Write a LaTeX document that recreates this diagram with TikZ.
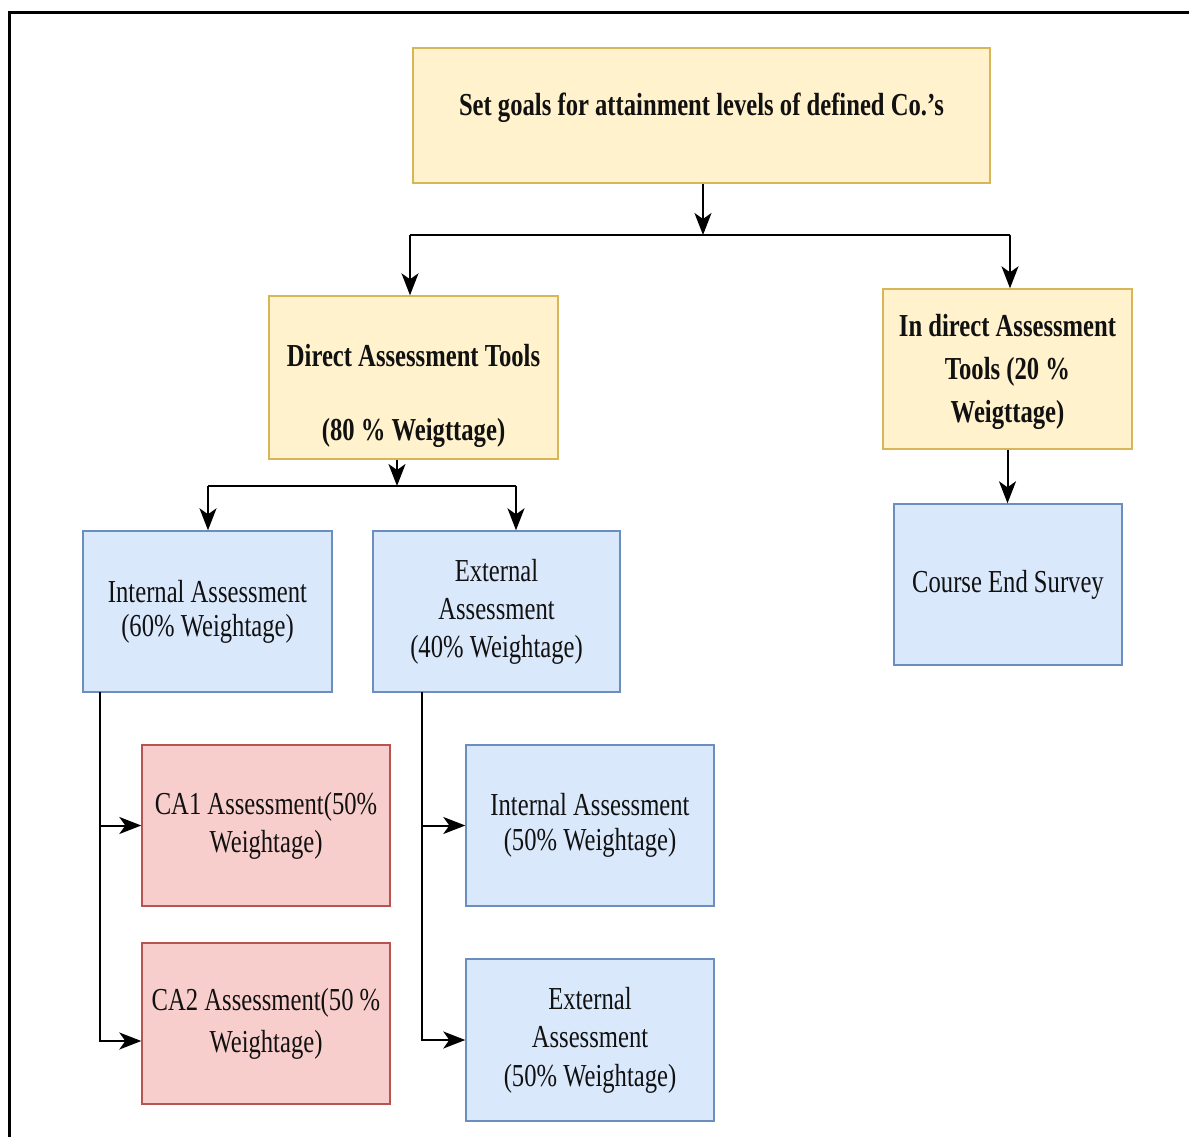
\documentclass[tikz,border=0pt]{standalone}
\usepackage{fontspec}
\setmainfont{Liberation Serif}[FakeStretch=0.77]
\usetikzlibrary{arrows.meta}
\definecolor{yfill}{HTML}{FFF2CC}
\definecolor{yline}{HTML}{D6B656}
\definecolor{bfill}{HTML}{DAE8FC}
\definecolor{bline}{HTML}{6C8EBF}
\definecolor{rfill}{HTML}{F8CECC}
\definecolor{rline}{HTML}{B85450}
\definecolor{txt}{HTML}{111111}
\tikzset{
  box/.style={draw, rectangle, line width=1.4pt, inner sep=0pt, align=center, text=txt,
    font=\fontsize{32}{37}\selectfont},
  ybox/.style={box, fill=yfill, draw=yline},
  bbox/.style={box, fill=bfill, draw=bline},
  rbox/.style={box, fill=rfill, draw=rline},
  btext/.style={align=center, text=txt, inner sep=0pt, font=\fontsize{32}{37}\selectfont\bfseries},
  conn/.style={line width=2pt, draw=black},
  arr/.style={conn, -{Stealth[length=22pt, width=17pt, inset=6pt]}}
}
\begin{document}
\begin{tikzpicture}[x=1pt, y=-1pt]
\useasboundingbox (0,0) rectangle (1189,1137);
\fill[white] (0,0) rectangle (1189,1137);
\draw[line width=3pt] (9.5,1137) -- (9.5,12.5) -- (1189,12.5);

% boxes
\node[ybox, minimum width=577pt, minimum height=135pt] (top) at (701.5,115.5) {};
\node[btext] (topT) at ([yshift=8pt]top.center) {Set goals for attainment levels of defined Co.’s};

\node[ybox, minimum width=289pt, minimum height=163pt] (direct) at (413.5,377.5) {};
\node[btext] (directT) at ([yshift=-18pt]direct.center) {Direct Assessment Tools\\[37pt](80 \% Weigttage)};

\node[ybox, minimum width=249pt, minimum height=160pt] (indirect) at (1007.5,369) {};
\node[btext, font=\fontsize{32}{43}\selectfont\bfseries] (indirectT) at ([yshift=-3pt]indirect.center)
  {In direct Assessment\\Tools (20 \%\\Weigttage)};

\node[bbox, minimum width=249pt, minimum height=161pt, font=\fontsize{32}{34}\selectfont] (int60) at (207.5,611.5)
  {Internal Assessment\\(60\% Weightage)};
\node[bbox, minimum width=247pt, minimum height=161pt, font=\fontsize{32}{38}\selectfont] (ext40) at (496.5,611.5)
  {External\\Assessment\\(40\% Weightage)};
\node[bbox, minimum width=228pt, minimum height=161pt] (course) at (1008,584.5)
  {Course End Survey};

\node[rbox, minimum width=248pt, minimum height=161pt, font=\fontsize{32}{38}\selectfont] (ca1) at (266,825.5)
  {CA1 Assessment(50\%\\Weightage)};
\node[rbox, minimum width=248pt, minimum height=161pt, font=\fontsize{32}{42}\selectfont] (ca2) at (266,1023.5)
  {CA2 Assessment(50 \%\\Weightage)};
\node[bbox, minimum width=248pt, minimum height=161pt, font=\fontsize{32}{35}\selectfont] (int50) at (590,825.5)
  {Internal Assessment\\(50\% Weightage)};
\node[bbox, minimum width=248pt, minimum height=162pt, font=\fontsize{32}{38.5}\selectfont] (ext50) at (590,1040)
  {External\\Assessment\\(50\% Weightage)};

% connectors: top level
\coordinate (j1) at (703,235);
\coordinate (j1l) at (410,235);
\coordinate (j1r) at (1010,235);
\draw[arr] (top.south -| j1) -- (j1);
\draw[conn] (j1l) -- (j1r);
\draw[arr] (j1l) -- (j1l |- direct.north);
\draw[arr] (j1r) -- (j1r |- indirect.north);

% direct branch
\coordinate (j2) at (397,486);
\coordinate (j2l) at (208,486);
\coordinate (j2r) at (516,486);
\draw[arr] (direct.south -| j2) -- (j2);
\draw[conn] (j2l) -- (j2r);
\draw[arr] (j2l) -- (j2l |- int60.north);
\draw[arr] (j2r) -- (j2r |- ext40.north);

% indirect branch
\draw[arr] (indirect.south) -- (indirect.south |- course.north);

% internal trunk
\coordinate (t1) at (100,692);
\draw[arr] (t1) |- (ca1.west);
\draw[arr] (t1) |- ([yshift=-17.5pt]ca2.west);

% external trunk
\coordinate (t2) at (422,692);
\draw[arr] (t2) |- (int50.west);
\draw[arr] (t2) |- (ext50.west);
\end{tikzpicture}
\end{document}
